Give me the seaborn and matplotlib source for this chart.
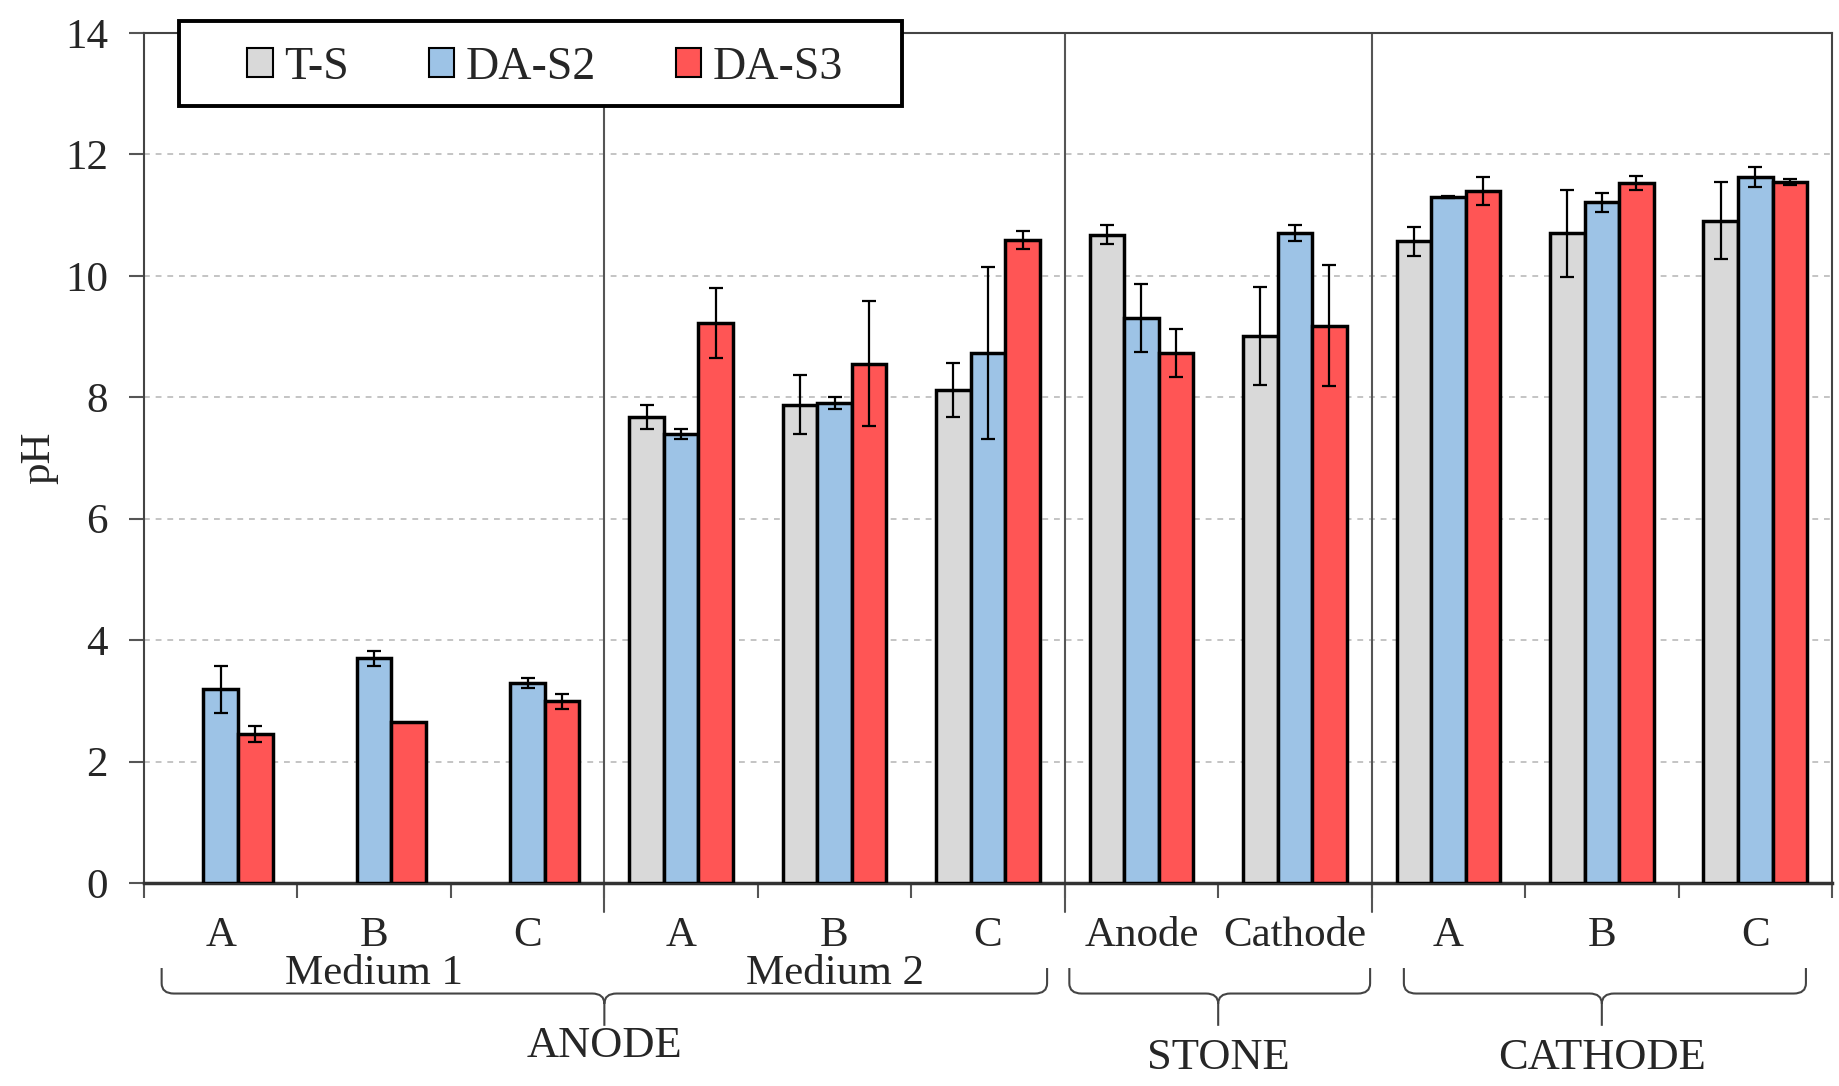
import numpy as np
import pandas as pd
import matplotlib
matplotlib.use("Agg")
import matplotlib.pyplot as plt
import matplotlib.transforms as mtransforms
from matplotlib.patches import Patch, PathPatch, Rectangle
from matplotlib.path import Path
import seaborn as sns

# ---- data -------------------------------------------------------------
cat_keys = ["M1-A", "M1-B", "M1-C", "M2-A", "M2-B", "M2-C",
            "S-An", "S-Ca", "C-A", "C-B", "C-C"]
tick_labels = ["A", "B", "C", "A", "B", "C", "Anode", "Cathode", "A", "B", "C"]
series_names = ["T-S", "DA-S2", "DA-S3"]

ts_vals = [np.nan, np.nan, np.nan, 7.67, 7.88, 8.12, 10.68, 9.01, 10.57, 10.70, 10.91]
ts_err = [np.nan, np.nan, np.nan, 0.20, 0.48, 0.45, 0.15, 0.80, 0.24, 0.72, 0.64]
s2_vals = [3.19, 3.70, 3.29, 7.39, 7.91, 8.73, 9.31, 10.70, 11.30, 11.21, 11.63]
s2_err = [0.39, 0.12, 0.08, 0.08, 0.10, 1.41, 0.56, 0.13, 0.02, 0.15, 0.16]
s3_vals = [2.46, 2.66, 2.99, 9.22, 8.55, 10.59, 8.73, 9.18, 11.40, 11.53, 11.55]
s3_err = [0.13, np.nan, 0.13, 0.58, 1.03, 0.15, 0.39, 1.00, 0.23, 0.12, 0.05]

sub_groups = [("Medium 1", 0, 2), ("Medium 2", 3, 5)]
main_groups = [("ANODE", 0, 5), ("STONE", 6, 7), ("CATHODE", 8, 10)]

colors = {"T-S": "#d9d9d9", "DA-S2": "#9dc3e6", "DA-S3": "#ff5555"}

values = {"T-S": ts_vals, "DA-S2": s2_vals, "DA-S3": s3_vals}
errors = {"T-S": ts_err, "DA-S2": s2_err, "DA-S3": s3_err}

rows = []
for name in series_names:
    for key, v in zip(cat_keys, values[name]):
        rows.append({"cat": key, "series": name, "pH": v})
df = pd.DataFrame(rows)

# ---- style ------------------------------------------------------------
sns.set_style("white")
plt.rcParams["font.family"] = ["Liberation Serif", "DejaVu Serif"]
FS = 31

fig = plt.figure(figsize=(18.39, 10.86), dpi=100)
ax = fig.add_axes([0.0783, 0.1869, 0.9179, 0.7827])

sns.barplot(data=df, x="cat", y="pH", hue="series", order=cat_keys,
            hue_order=series_names, palette=colors, saturation=1,
            width=0.675, edgecolor="black", linewidth=2.5,
            errorbar=None, legend=False, ax=ax, zorder=3)

# error bars placed on the drawn bars
rgba_to_name = {tuple(np.round(matplotlib.colors.to_rgba(c), 3)): n for n, c in colors.items()}
for bar in ax.patches:
    h = bar.get_height()
    if not np.isfinite(h):
        continue
    name = rgba_to_name.get(tuple(np.round(bar.get_facecolor(), 3)))
    if name is None:
        continue
    xc = bar.get_x() + bar.get_width() / 2
    i = int(round(xc))
    e = errors[name][i]
    if np.isfinite(e) and e > 0:
        ax.errorbar(xc, h, yerr=e, fmt="none", ecolor="black",
                    elinewidth=1.6, capsize=5, capthick=1.6, zorder=5)

# axes ranges, ticks, grid
ax.set_xlim(-0.5, len(cat_keys) - 0.5)
ax.set_ylim(0, 14)
ax.set_yticks(np.arange(0, 15, 2))
ax.tick_params(axis="y", labelsize=FS, length=11, width=1.5, color="#555555",
               direction="out", pad=15, left=True)
ax.set_xticks(range(len(cat_keys)))
ax.set_xticklabels(tick_labels)
ax.tick_params(axis="x", which="major", labelsize=FS, length=0, pad=24)
ax.set_xticks(np.arange(-0.5, len(cat_keys), 1), minor=True)
ax.tick_params(axis="x", which="minor", length=11, width=1.5,
               color="#555555", direction="out", bottom=True)
ax.set_xlabel("")
ax.set_ylabel("pH", fontsize=FS)
ax.yaxis.set_label_coords(-0.051, 0.5)

ax.set_axisbelow(True)
ax.yaxis.grid(True, color="#c4c4c4", linewidth=1.4, linestyle=(0, (3, 3)))
ax.xaxis.grid(False)

for side in ["left", "top", "right"]:
    ax.spines[side].set_color("#444444")
    ax.spines[side].set_linewidth(1.5)
ax.spines["bottom"].set_color("#333333")
ax.spines["bottom"].set_linewidth(2.5)

blend = mtransforms.blended_transform_factory(ax.transData, ax.transAxes)

# vertical separators between groups
for _, start, end in main_groups[:-1] + [sub_groups[0]]:
    b = end + 0.5
    ax.axvline(b, color="#555555", linewidth=1.5, zorder=1)
    ax.plot([b, b], [0, -0.034], transform=blend, color="#555555",
            linewidth=1.5, clip_on=False)

# second-level labels
for label, start, end in sub_groups:
    ax.text((start + end) / 2, -0.107, label, transform=blend,
            ha="center", va="center", fontsize=FS)


def brace(a, b, c, y_top, y_mid, y_bot, rx=0.08, ry=0.012):
    verts = [(a, y_top), (a, y_mid + ry), (a, y_mid), (a + rx, y_mid),
             (c - rx, y_mid), (c, y_mid), (c, y_mid - ry), (c, y_bot),
             (b, y_top), (b, y_mid + ry), (b, y_mid), (b - rx, y_mid),
             (c + rx, y_mid), (c, y_mid), (c, y_mid - ry)]
    codes = [Path.MOVETO, Path.LINETO, Path.CURVE3, Path.CURVE3,
             Path.LINETO, Path.CURVE3, Path.CURVE3, Path.LINETO,
             Path.MOVETO, Path.LINETO, Path.CURVE3, Path.CURVE3,
             Path.LINETO, Path.CURVE3, Path.CURVE3]
    p = PathPatch(Path(verts, codes), transform=blend, fill=False,
                  edgecolor="#444444", linewidth=1.5, clip_on=False)
    ax.add_patch(p)


# brace insets from the group edges (left, right)
brace_insets = {"ANODE": (0.115, 0.115), "STONE": (0.03, 0.01), "CATHODE": (0.21, 0.17)}
label_y = {"ANODE": -0.192, "STONE": -0.206, "CATHODE": -0.206}
for label, start, end in main_groups:
    li, ri = brace_insets[label]
    a = start - 0.5 + li
    b = end + 0.5 - ri
    c = (start + end) / 2
    brace(a, b, c, -0.100, -0.130, -0.168)
    ax.text(c, label_y[label], label, transform=blend, ha="center",
            va="center", fontsize=32)

# legend box across the top edge of the plot
box = Rectangle((0.0973, 0.9024), 0.3932, 0.0783, transform=fig.transFigure,
                facecolor="white", edgecolor="black", linewidth=2.8, zorder=4)
fig.patches.append(box)
handles = [Patch(facecolor=colors[n], edgecolor="black", linewidth=1.5) for n in series_names]
fig.legend(handles, series_names, loc="center", bbox_to_anchor=(0.2965, 0.938),
           ncol=3, frameon=False, fontsize=33, handlelength=0.55,
           handleheight=0.6, handletextpad=0.25, columnspacing=1.75)

fig.savefig("out.png", dpi=100)
